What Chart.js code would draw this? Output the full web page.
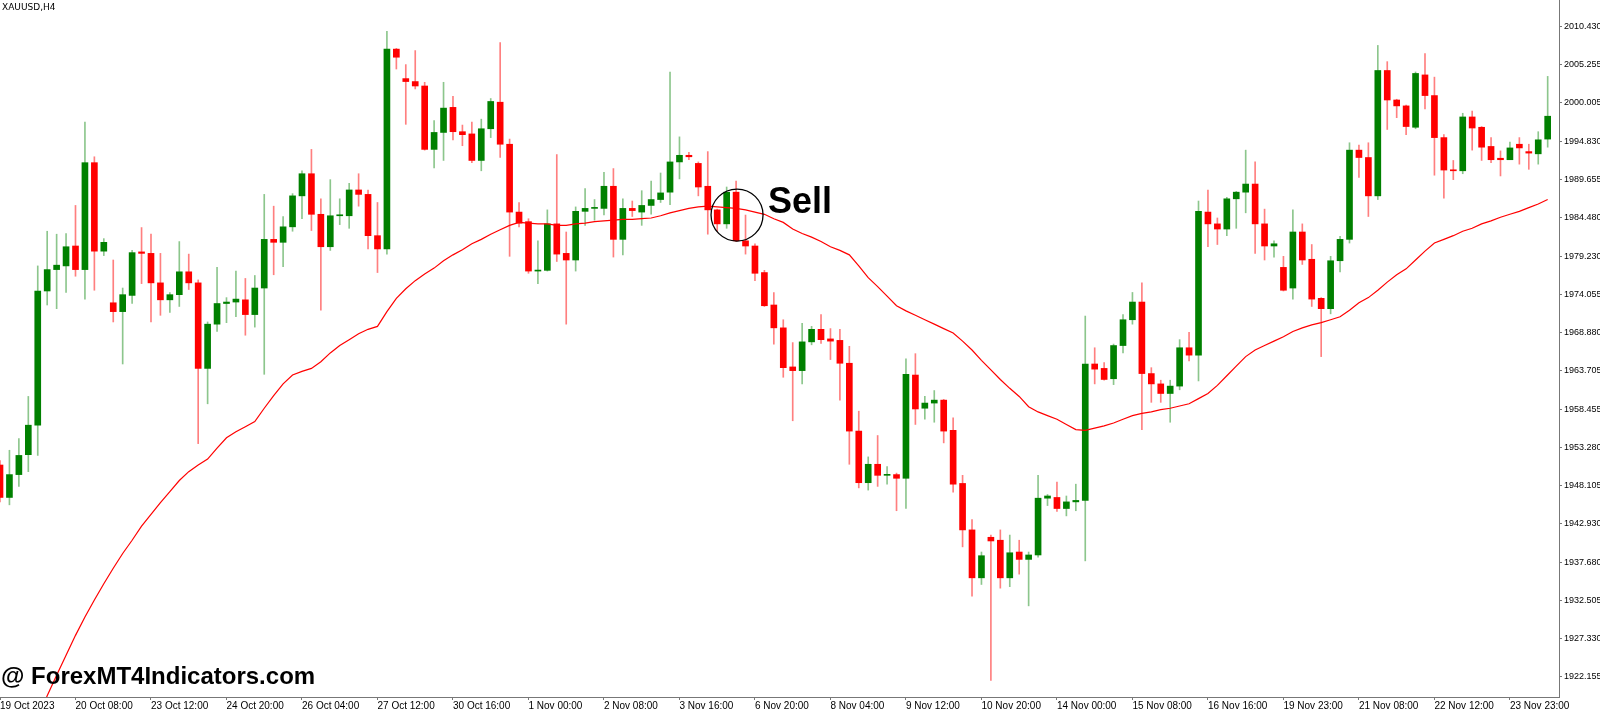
<!DOCTYPE html>
<html>
<head>
<meta charset="utf-8">
<script src="https://cdn.jsdelivr.net/npm/chart.js@4.4.0/dist/chart.umd.min.js"></script>
<style>
  html, body { margin: 0; padding: 0; background: #fff; overflow: hidden; }
  #wrap { width: 1600px; height: 713px; }
</style>
</head>
<body>
<div id="wrap"><canvas id="chart"></canvas></div>
<script>
// XAUUSD H4 candles
const opens = [
  1950.9,1946.5,1949.6,1952.3,1956.3,1974.5,1977.4,1977.9,1980.6,1977.4,
  1991.9,1979.9,1972.9,1971.7,1973.9,1979.8,1979.6,1975.6,1973.3,1974.0,
  1977.1,1975.6,1964.0,1970.0,1972.8,1973.0,1973.3,1971.3,1974.9,1981.5,
  1981.1,1983.2,1987.4,1990.4,1984.9,1980.5,1984.7,1984.7,1988.2,1987.6,
  1982.0,1980.2,2007.3,2003.3,2002.9,2002.3,1993.7,1996.0,1999.4,1996.1,
  1995.8,1992.2,1996.5,2000.1,1994.4,1985.2,1983.9,1977.2,1977.3,1983.6,
  1979.6,1978.7,1985.3,1985.7,1985.7,1988.7,1981.5,1985.7,1985.2,1986.1,
  1986.9,1987.9,1992.0,1992.9,1991.8,1988.7,1985.5,1983.6,1987.9,1981.3,
  1980.6,1977.0,1972.6,1969.5,1964.2,1963.7,1967.6,1969.3,1968.0,1967.8,
  1964.7,1955.5,1948.5,1951.0,1949.5,1949.6,1949.1,1963.1,1958.6,1959.3,
  1959.7,1955.6,1948.4,1942.1,1935.6,1941.1,1940.7,1935.6,1939.1,1938.1,
  1938.7,1946.4,1946.5,1945.0,1945.9,1946.1,1964.6,1964.0,1962.6,1967.1,
  1970.6,1973.0,1963.3,1961.9,1960.6,1961.6,1966.8,1965.8,1985.2,1983.6,
  1982.9,1987.0,1987.9,1989.0,1983.6,1980.6,1977.7,1974.9,1982.5,1978.8,
  1973.5,1972.1,1978.6,1981.5,1993.6,1992.6,1987.4,2004.4,2000.4,1999.6,
  1996.7,2003.8,2001.0,1995.3,1990.9,1990.8,1998.1,1996.7,1994.1,1992.5,
  1992.3,1994.4,1993.4,1993.1,1995.1
];
const highs = [
  1951.5,1952.9,1954.5,1960.2,1977.9,1982.6,1982.2,1982.3,1986.1,1997.4,
  1992.7,1981.6,1978.7,1974.9,1980.0,1983.1,1982.2,1979.6,1974.3,1981.2,
  1979.5,1976.0,1970.3,1977.7,1973.6,1977.2,1976.2,1976.6,1987.6,1986.0,
  1984.6,1987.7,1990.8,1993.7,1987.0,1989.6,1987.0,1989.1,1990.4,1988.2,
  1986.5,2009.7,2007.4,2005.2,2007.1,2002.8,1997.6,2002.8,2000.9,1997.0,
  1997.4,1997.8,2000.6,2008.2,1995.1,1986.5,1984.3,1981.3,1985.5,1993.0,
  1982.5,1985.9,1988.4,1986.9,1990.6,1991.1,1987.0,1986.7,1988.1,1989.4,
  1990.5,2004.2,1995.4,1993.3,1992.0,1993.4,1985.6,1988.6,1989.4,1984.8,
  1980.9,1977.3,1974.3,1970.6,1967.5,1970.1,1969.7,1971.3,1969.4,1969.3,
  1967.0,1958.2,1952.0,1954.9,1950.7,1949.8,1965.3,1966.0,1960.2,1961.0,
  1959.8,1957.3,1949.5,1943.5,1939.1,1941.4,1942.1,1941.4,1940.7,1939.1,
  1949.5,1946.9,1948.6,1946.7,1948.3,1971.1,1966.8,1964.8,1967.3,1971.3,
  1974.3,1975.6,1964.1,1962.4,1962.4,1967.9,1968.9,1986.7,1988.2,1984.4,
  1987.2,1988.0,1993.6,1992.0,1985.6,1981.3,1979.2,1985.5,1983.6,1980.8,
  1973.6,1979.2,1981.9,1994.6,1994.3,1994.6,2007.8,2005.6,2000.5,1999.7,
  2004.2,2006.7,2003.5,1995.7,1992.2,1998.6,1998.9,1996.8,1995.3,1993.5,
  1994.7,1995.3,1994.4,1996.1,2003.6
];
const lows = [
  1945.9,1945.5,1948.0,1950.0,1952.2,1972.6,1972.1,1974.3,1976.5,1973.4,
  1974.6,1979.3,1970.3,1964.6,1972.8,1975.5,1970.3,1971.2,1971.6,1972.4,
  1974.7,1953.8,1959.2,1969.0,1970.2,1971.0,1968.5,1969.6,1963.2,1976.7,
  1977.8,1982.6,1984.3,1982.7,1971.9,1980.0,1983.5,1983.0,1986.0,1980.2,
  1977.0,1979.5,2004.6,1997.1,2001.9,1993.6,1991.2,1992.2,1995.0,1994.2,
  1991.9,1990.8,1995.3,1992.6,1979.2,1983.2,1976.9,1975.5,1977.2,1978.5,
  1970.0,1977.2,1983.4,1984.1,1984.8,1979.1,1979.4,1984.6,1983.4,1984.9,
  1986.5,1986.2,1989.7,1992.3,1987.4,1982.2,1982.6,1983.0,1981.2,1979.5,
  1975.9,1972.4,1967.3,1962.8,1956.9,1961.9,1967.2,1967.4,1965.2,1959.7,
  1951.0,1947.8,1947.5,1948.0,1948.3,1944.7,1945.0,1956.4,1957.1,1956.7,
  1953.9,1947.2,1939.8,1933.1,1934.7,1921.7,1934.2,1934.4,1936.1,1931.8,
  1938.4,1945.4,1944.6,1944.0,1944.7,1937.9,1961.9,1962.4,1961.8,1966.1,
  1970.0,1955.7,1959.4,1959.4,1956.7,1961.1,1965.0,1962.3,1980.5,1980.8,
  1982.0,1983.0,1985.1,1979.6,1978.7,1979.1,1974.5,1973.4,1978.1,1972.4,
  1965.6,1971.4,1977.1,1981.0,1989.9,1984.6,1986.9,1996.4,1998.0,1995.7,
  1996.5,1999.2,1990.2,1987.1,1989.6,1990.4,1993.6,1992.2,1991.9,1990.1,
  1992.8,1991.7,1991.0,1991.7,1994.0
];
const closes = [
  1946.5,1949.6,1952.2,1956.3,1974.5,1977.4,1978.0,1980.5,1977.4,1991.9,
  1979.9,1981.1,1971.7,1974.0,1979.7,1979.6,1975.6,1973.3,1974.0,1977.1,
  1975.6,1964.0,1970.0,1972.8,1973.0,1973.4,1971.3,1974.9,1981.5,1981.1,
  1983.2,1987.4,1990.4,1984.9,1980.5,1984.7,1984.8,1988.2,1987.6,1982.0,
  1980.2,2007.3,2006.2,2002.9,2002.3,1993.7,1996.0,1999.3,1996.1,1995.7,
  1992.2,1996.5,2000.2,1994.4,1985.2,1983.7,1977.2,1977.3,1983.6,1979.5,
  1978.7,1985.3,1985.7,1985.8,1988.7,1981.5,1985.7,1985.4,1986.1,1986.9,
  1987.8,1992.0,1992.9,1992.7,1988.6,1985.5,1983.6,1987.9,1981.3,1980.6,
  1976.9,1972.5,1969.5,1964.1,1963.7,1967.6,1969.3,1967.9,1967.7,1964.7,
  1955.5,1948.5,1951.0,1949.5,1949.6,1949.1,1963.2,1958.5,1959.3,1959.7,
  1955.5,1948.3,1942.1,1935.6,1938.6,1940.6,1935.6,1939.0,1938.1,1938.7,
  1946.4,1946.7,1945.0,1945.9,1946.1,1964.6,1963.9,1962.5,1967.1,1970.6,
  1973.0,1963.3,1961.9,1960.6,1961.6,1966.8,1965.8,1985.3,1983.6,1982.9,
  1987.0,1987.9,1989.0,1983.6,1980.6,1980.9,1974.6,1982.5,1978.7,1973.4,
  1972.1,1978.6,1981.5,1993.6,1992.6,1987.4,2004.4,2000.4,1999.6,1996.8,
  2004.0,2001.0,1995.3,1990.9,1990.8,1998.1,1996.6,1994.0,1992.3,1992.3,
  1993.9,1993.9,1993.2,1995.0,1998.2
];
// red moving average
const maValues = [
  null,null,null,null,1916.6,1919.6,1922.4,1925.1,1927.8,1930.3,
  1932.6,1934.8,1936.9,1938.9,1940.7,1942.6,1944.2,1945.8,1947.3,1948.8,
  1950.0,1950.9,1951.7,1953.2,1954.6,1955.4,1956.1,1956.8,1958.6,1960.3,
  1961.9,1963.1,1963.6,1964.0,1964.9,1966.1,1967.1,1967.9,1968.7,1969.3,
  1969.7,1971.7,1973.5,1974.8,1975.9,1976.8,1977.6,1978.6,1979.4,1980.1,
  1980.9,1981.5,1982.2,1982.8,1983.4,1983.8,1983.7,1983.6,1983.6,1983.4,
  1983.4,1983.6,1983.7,1983.9,1984.0,1984.1,1984.2,1984.2,1984.3,1984.4,
  1984.7,1985.1,1985.4,1985.7,1985.9,1986.0,1985.9,1985.8,1985.7,1985.5,
  1985.2,1984.9,1984.3,1983.8,1982.9,1982.3,1981.8,1981.2,1980.5,1980.0,
  1979.4,1977.9,1976.3,1975.1,1973.8,1972.5,1971.8,1971.2,1970.6,1970.0,
  1969.4,1968.8,1967.7,1966.5,1965.1,1963.8,1962.5,1961.3,1960.2,1958.8,
  1958.1,1957.6,1957.1,1956.4,1955.7,1955.6,1955.9,1956.2,1956.6,1957.1,
  1957.6,1957.9,1958.1,1958.4,1958.6,1958.9,1959.2,1959.9,1960.6,1961.7,
  1963.0,1964.3,1965.6,1966.5,1967.1,1967.7,1968.3,1969.0,1969.5,1969.9,
  1970.2,1970.6,1971.0,1971.9,1972.9,1973.6,1974.6,1975.7,1976.7,1977.5,
  1978.7,1979.9,1981.0,1981.5,1982.0,1982.6,1983.0,1983.6,1984.0,1984.5,
  1984.9,1985.3,1985.8,1986.3,1986.9
];
const priceTicks = [2010.430,2005.255,2000.005,1994.830,1989.655,1984.480,1979.230,1974.055,
  1968.880,1963.705,1958.455,1953.280,1948.105,1942.930,1937.680,1932.505,1927.330,1922.155];
const timeTickBars = [0,8,16,24,32,40,48,56,64,72,80,88,96,104,112,120,128,136,144,152,160];
const timeLabels = ["19 Oct 2023","20 Oct 08:00","23 Oct 12:00","24 Oct 20:00","26 Oct 04:00",
  "27 Oct 12:00","30 Oct 16:00","1 Nov 00:00","2 Nov 08:00","3 Nov 16:00","6 Nov 20:00",
  "8 Nov 04:00","9 Nov 12:00","10 Nov 20:00","14 Nov 00:00","15 Nov 08:00","16 Nov 16:00",
  "19 Nov 23:00","21 Nov 08:00","22 Nov 12:00","23 Nov 23:00"];
const sellBar = 78.1, sellPrice = 1984.8;

const GREEN = '#008000', RED = '#ff0000';
const bodies = opens.map((o, i) => ({ x: i, y: [o, closes[i]] }));
const wicks = highs.map((h, i) => ({ x: i, y: [lows[i], h] }));
const up = opens.map((o, i) => closes[i] >= o);
const ma = maValues.map((v, i) => ({ x: i, y: v }));

const textPlugin = {
    id: 'texts',
    afterDraw(chart) {
        const ctx = chart.ctx;
        const xs = chart.scales.x, ys = chart.scales.y;
        ctx.save();
        ctx.fillStyle = '#000';
        ctx.textBaseline = 'top';
        ctx.textAlign = 'left';
        ctx.font = '9px "DejaVu Sans"';
        ctx.fillText('XAUUSD,H4', 2, 3);
        ctx.textBaseline = 'alphabetic';
        ctx.font = 'bold 36px "Liberation Sans"';
        ctx.fillText('Sell', xs.getPixelForValue(sellBar) + 31, ys.getPixelForValue(sellPrice) - 2);
        ctx.font = 'bold 24px "Liberation Sans"';
        ctx.fillText('@ ForexMT4Indicators.com', 1, 684);
        ctx.restore();
    }
};

function noPad(s) {
    s.paddingLeft = 0; s.paddingRight = 0; s.paddingTop = 0; s.paddingBottom = 0;
}

new Chart(document.getElementById('chart'), {
    type: 'bar',
    data: {
        datasets: [
            {
                type: 'scatter',
                data: [{ x: sellBar, y: sellPrice }],
                pointRadius: 26,
                pointHoverRadius: 26,
                backgroundColor: 'rgba(0,0,0,0)',
                borderColor: '#000',
                borderWidth: 1.3,
                order: 0
            },
            {
                type: 'line',
                data: ma,
                borderColor: RED,
                borderWidth: 1.2,
                pointRadius: 0,
                tension: 0,
                order: 1
            },
            {
                data: bodies,
                backgroundColor: up.map(u => u ? GREEN : RED),
                barThickness: 6,
                minBarLength: 1,
                grouped: false,
                order: 2
            },
            {
                data: wicks,
                backgroundColor: up.map(u => u ? 'rgba(0,128,0,0.45)' : 'rgba(255,0,0,0.5)'),
                barThickness: 1,
                grouped: false,
                order: 3
            }
        ]
    },
    options: {
        responsive: true,
        maintainAspectRatio: false,
        animation: false,
        layout: { padding: 0, autoPadding: false },
        plugins: { legend: { display: false }, tooltip: { enabled: false } },
        scales: {
            x: {
                type: 'linear',
                offset: false,
                min: 0,
                max: 165.2,
                afterBuildTicks: s => { s.ticks = timeTickBars.map(v => ({ value: v })); },
                afterFit: s => { s.height = 16; noPad(s); },
                ticks: {
                    autoSkip: false,
                    maxRotation: 0,
                    align: 'start',
                    padding: 0,
                    color: '#000',
                    font: { family: 'Liberation Sans', size: 10 },
                    callback: v => timeLabels[timeTickBars.indexOf(v)]
                },
                grid: { drawOnChartArea: false, offset: false, tickLength: 3, color: '#777' },
                border: { color: '#777' }
            },
            y: {
                position: 'right',
                min: 1919.44,
                max: 2013.96,
                afterBuildTicks: s => { s.ticks = priceTicks.map(v => ({ value: v })); },
                afterFit: s => { s.width = 41; noPad(s); },
                ticks: {
                    autoSkip: false,
                    padding: 2,
                    color: '#000',
                    font: { family: 'Liberation Sans', size: 9 },
                    callback: v => v.toFixed(3)
                },
                grid: { drawOnChartArea: false, tickLength: 3, color: '#777' },
                border: { color: '#777' }
            }
        }
    },
    plugins: [textPlugin]
});
</script>
</body>
</html>
